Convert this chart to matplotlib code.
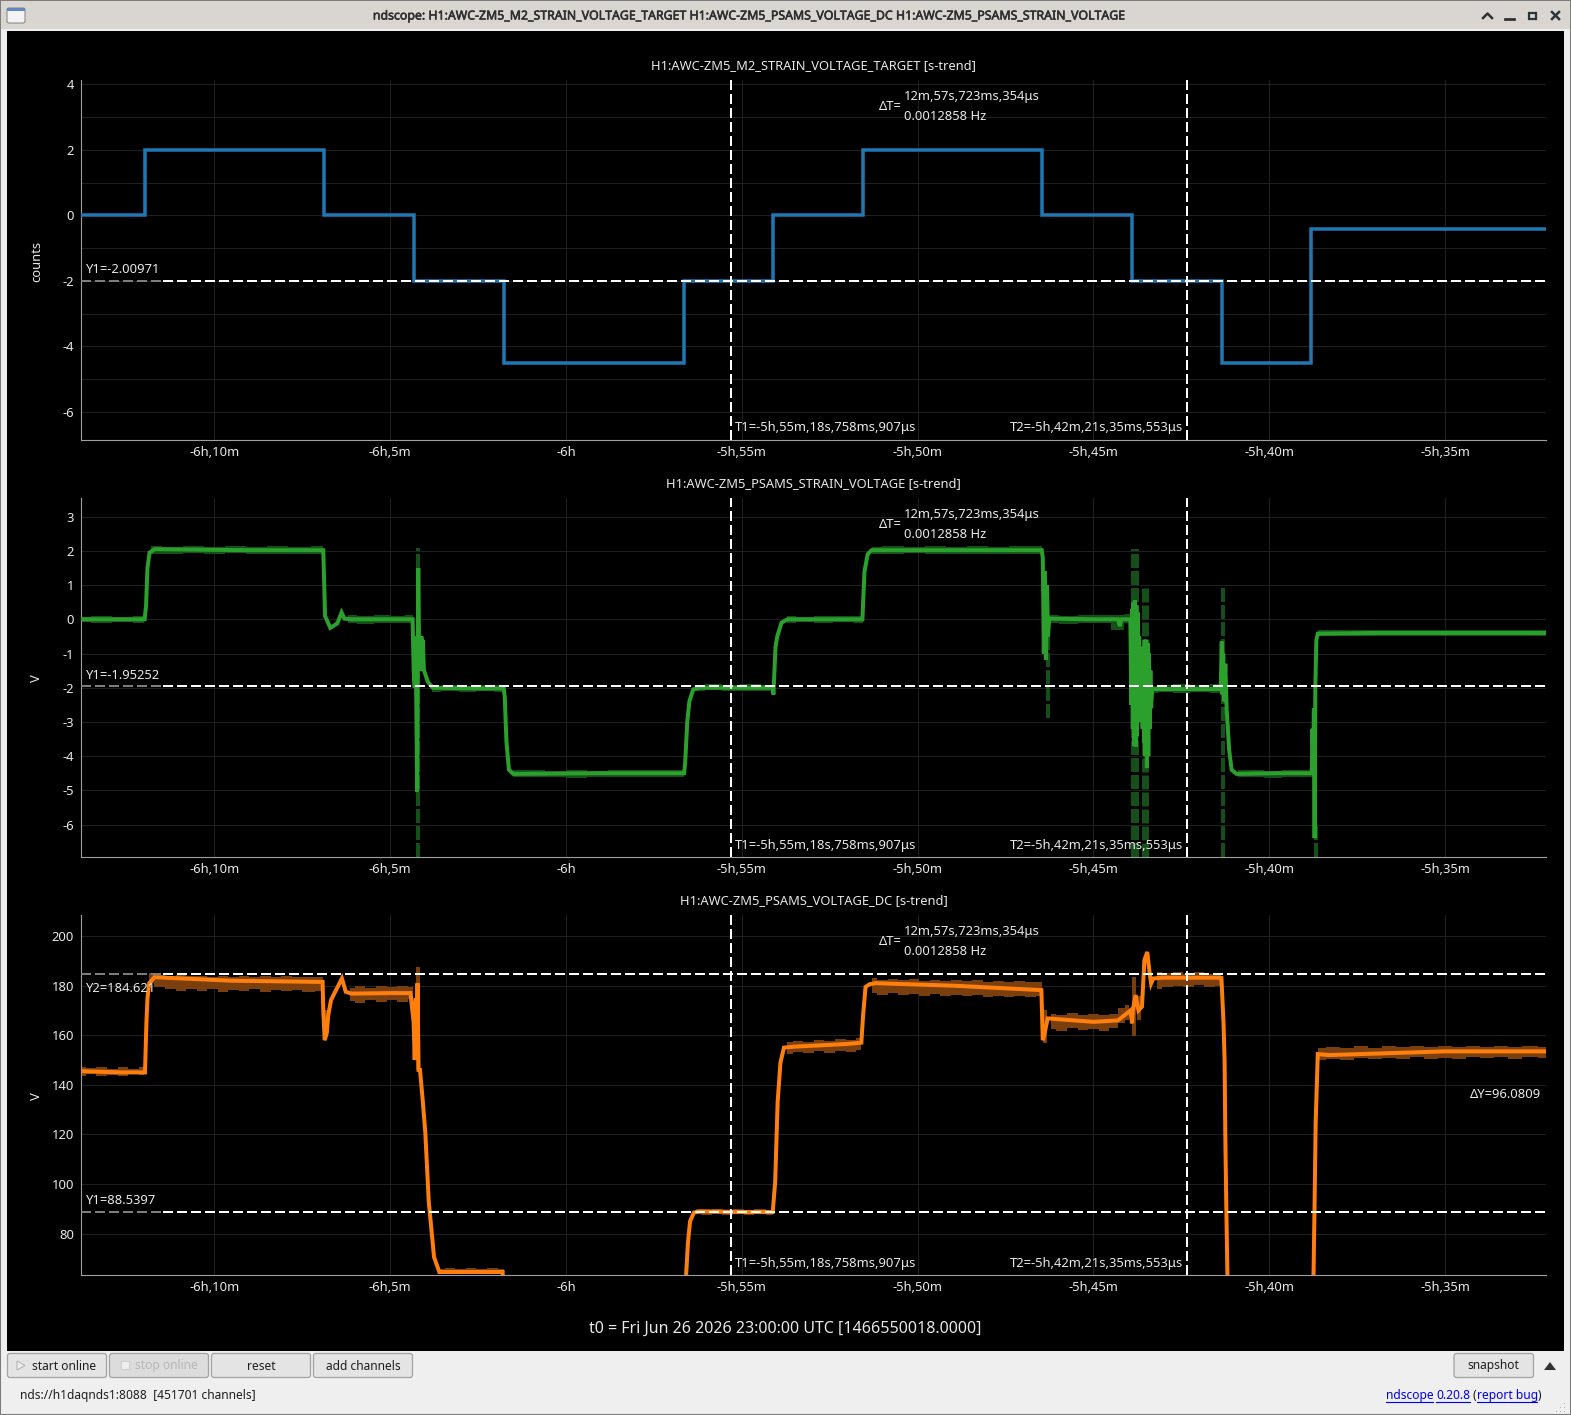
import matplotlib
matplotlib.use('Agg')
import matplotlib.pyplot as plt
import matplotlib.patheffects as pe
from matplotlib.patches import FancyBboxPatch, Rectangle, Polygon
import numpy as np

nan = np.nan
plt.rcParams['font.family'] = ['Noto Sans', 'DejaVu Sans']

W, H = 1571, 1415

# x axis is minutes relative to t0
x_ticks = [-370, -365, -360, -355, -350, -345, -340, -335]
x_labels = ['-6h,10m', '-6h,5m', '-6h', '-5h,55m', '-5h,50m', '-5h,45m', '-5h,40m', '-5h,35m']
x_lim = (-373.79, -332.13)

t1_cursor = -355.31
t2_cursor = -342.35
y_label_end = -371.47

# top panel: target steps
blue_t = [-373.79, -371.97, -366.87, -364.32, -361.77, -356.64, -354.10, -351.55, -346.45, -343.90, -341.35, -338.80, -332.13]
blue_v = [0, 2, 0, -2, -4.5, -2, 0, 2, 0, -2, -4.5, -0.4, -0.4]

# middle panel: strain voltage mean
green_t = [-373.79, -372.6, -371.98, -371.94, -371.9, -371.84, -371.7, -369.0, -366.9, -366.85, -366.7, -366.5, -366.38, -366.3, -366.1,
           -365.0, -364.36, -364.33, -364.30, -364.28, -364.26, -364.23, -364.20, -364.17, -364.15, -364.13, -364.11, -364.09, -364.07,
           -364.04, -363.93, -363.79, -362.5, -361.77, -361.74, -361.69, -361.62, -361.5, -359.0, -356.64, -356.61, -356.55, -356.49, -356.38, -356.21,
           -355.0, -354.12, -354.10, -354.04, -353.99, -353.87, -353.70, -352.5, -351.57, -351.51, -351.42, -351.31, -349.0, -346.47,
           -346.44, -346.41, -346.38, -346.35, -346.32, -346.29, -346.26, -345.0, -344.3, -344.25, -344.2, -343.95,
           -343.92, -343.90, -343.88, -343.86, -343.84, -343.82, -343.80, -343.78, -343.76, -343.74, -343.72, -343.70, -343.68, -343.65,
           -343.62, -343.60, -343.58, -343.56, -343.54, -343.52, -343.50, -343.48, -343.46, -343.44, -343.42, -343.40, -343.38, -343.36, -343.33,
           -342.5, -341.38, -341.35, -341.33, -341.31, -341.28, -341.25, -341.21, -341.14, -341.07, -340.93, -339.8, -338.79,
           -338.77, -338.75, -338.73, -338.71, -338.69, -338.66, -338.62, -337.0, -335.0, -332.13]
green_v = [0, 0, 0, 0.4, 1.5, 1.95, 2.05, 2.02, 2.02, 0.1, -0.25, -0.12, 0.2, 0.02, 0,
           0, 0, -1.5, -2, -0.5, -2, -5.04, 1.5, -1.5, -0.5, -1.5, -0.5, -1.5, -0.6,
           -1.48, -1.82, -2.0, -2.02, -2.02, -2.26, -3.6, -4.4, -4.52, -4.5, -4.5, -4.2, -3.0, -2.4, -2.05, -2.0,
           -2.0, -2.0, -2.2, -0.8, -0.5, -0.1, 0, 0, 0, 1.4, 1.9, 2.02, 2.02, 2.02,
           1.8, -1.0, 1.4, -1.19, 1.0, -0.5, 0.02, 0, 0, -0.2, 0, 0,
           -2.5, 0.3, -3.2, 0.5, -3.7, 0.56, -3.72, 0.4, -3.4, 0.2, -3.0, -0.5, -2.6, -1.5,
           -1.0, -3.2, -0.8, -3.6, -0.6, -4.0, -0.6, -4.35, -0.7, -4.0, -1.0, -3.2, -1.5, -2.6, -2.04,
           -2.04, -2.04, -0.65, -2.2, -1.0, -2.4, -1.3, -2.65, -3.82, -4.4, -4.52, -4.5, -4.5,
           -3.2, -4.2, -2.6, -6.4, -2.0, -0.6, -0.42, -0.4, -0.4, -0.4]

green_env_t = [-373.79, -373.2, -372.6, -372.0, nan,
               -371.8, -371.2, -370.6, -370.0, -369.4, -368.8, -368.2, -367.6, -366.9, nan,
               -366.2, -365.7, -365.2, -364.8, -364.35, nan,
               -363.8, -363.3, -362.8, -362.3, -361.8, nan,
               -361.5, -360.9, -360.3, -359.7, -359.1, -358.5, -357.9, -357.3, -356.65, nan,
               -356.3, -355.8, -355.3, -354.8, -354.1, nan,
               -353.7, -353.2, -352.7, -352.1, -351.55, nan,
               -351.3, -350.7, -350.1, -349.5, -348.9, -348.3, -347.7, -347.1, -346.47, nan,
               -346.25, -345.7, -345.2, -344.7, -344.3, -343.95, nan,
               -343.3, -343.0, -342.5, -342.0, -341.36, nan,
               -340.9, -340.4, -339.9, -339.4, -338.78, nan,
               -338.6, -338.0, -337.4, -336.8, -336.2, -335.6, -335.0, -334.4, -333.8, -333.2, -332.6, -332.13]
green_env_hi = [0.08, 0.1, 0.07, 0.09, nan,
                2.14, 2.12, 2.15, 2.12, 2.14, 2.11, 2.15, 2.12, 2.14, nan,
                0.12, 0.1, 0.13, 0.1, 0.14, nan,
                -1.94, -1.92, -1.95, -1.92, -1.93, nan,
                -4.42, -4.4, -4.44, -4.41, -4.43, -4.4, -4.42, -4.4, -4.42, nan,
                -1.92, -1.9, -1.93, -1.9, -1.92, nan,
                0.1, 0.08, 0.1, 0.09, 0.1, nan,
                2.12, 2.15, 2.12, 2.14, 2.11, 2.15, 2.12, 2.14, 2.13, nan,
                0.14, 0.1, 0.13, 0.12, 0.14, 0.16, nan,
                -1.94, -1.92, -1.9, -1.92, -1.9, nan,
                -4.42, -4.4, -4.43, -4.4, -4.42, nan,
                -0.3, -0.31, -0.3, -0.32, -0.3, -0.31, -0.3, -0.3, -0.32, -0.3, -0.31, -0.3]
green_env_lo = [-0.08, -0.1, -0.07, -0.1, nan,
                1.92, 1.9, 1.93, 1.91, 1.93, 1.9, 1.92, 1.91, 1.92, nan,
                -0.11, -0.13, -0.1, -0.12, -0.11, nan,
                -2.12, -2.1, -2.13, -2.1, -2.12, nan,
                -4.6, -4.62, -4.6, -4.63, -4.6, -4.62, -4.6, -4.62, -4.6, nan,
                -2.1, -2.08, -2.1, -2.09, -2.1, nan,
                -0.1, -0.09, -0.11, -0.09, -0.1, nan,
                1.92, 1.9, 1.93, 1.9, 1.92, 1.9, 1.92, 1.9, 1.92, nan,
                -0.11, -0.13, -0.1, -0.12, -0.3, -0.12, nan,
                -2.15, -2.14, -2.16, -2.13, -2.15, nan,
                -4.62, -4.6, -4.63, -4.6, -4.62, nan,
                -0.5, -0.48, -0.5, -0.48, -0.5, -0.48, -0.5, -0.5, -0.48, -0.5, -0.48, -0.5]

# dark min/max excursions in the middle panel
green_spike_t = [-364.21, -346.30, -343.83, -343.53, -341.32, -338.68]
green_spike_lo = [-6.95, -2.89, -6.95, -6.95, -6.95, -6.95]
green_spike_hi = [2.09, 0.0, 2.05, 1.0, 0.94, -6.0]
green_spike_w = [4, 4, 8, 7, 4, 4]

# bottom panel: PSAMS DC voltage mean (goes off scale below 64)
orange_t = [-373.79, -372.6, -371.97, -371.93, -371.90, -371.85, -371.7, -369.5, -366.92, -366.90, -366.86, -366.80, -366.76, -366.68, -366.37, -366.26, -366.1, -365.0,
            -364.42, -364.33, -364.30, -364.27, -364.25, -364.22, -364.19, -364.15, -364.08, -364.0, -363.9, -363.75, -363.6, -362.5, -361.8, -361.72,
            -356.68, -356.58, -356.53, -356.47, -356.36, -356.15, -355.0, -354.12, -354.05, -353.98, -353.9, -353.8, -353.5, -352.0, -351.6, -351.55, -351.48, -351.36, -351.2, -349.0, -346.48,
            -346.44, -346.40, -346.30, -345.0, -344.3, -344.0, -343.95, -343.9, -343.88, -343.8, -343.72, -343.62, -343.55, -343.47, -343.40, -343.36, -343.30, -343.05, -341.4,
            -341.36, -341.30, -341.27, -341.25, -341.22, -341.19, -341.12, -338.78, -338.74, -338.71, -338.68, -338.62, -338.3, -335.0, -332.13]
orange_v = [145.5, 145, 145, 165, 175, 181, 183.4, 182, 181.5, 170, 158, 161, 168, 174.2, 182.9, 177.5, 176.8, 177,
            177, 165, 150, 175, 150, 181, 146, 146, 135, 121, 92.7, 70.5, 64.5, 64.5, 64.5, 30,
            30, 64, 76.4, 85, 88.5, 89, 88.7, 88.7, 100.7, 133, 149, 155, 155.4, 156.5, 157, 168, 179.5, 180.6, 181, 180, 178.2,
            158, 160, 166.8, 165.4, 166, 169.4, 170, 164.8, 170, 176.2, 170, 171.5, 190.3, 193.6, 184.9, 180.9, 182.9, 183.2, 183.2,
            183.1, 164.8, 150, 120, 90, 64, 30, 30, 64, 92.7, 125, 152.4, 152, 153.5, 153.5]

orange_env_t = [-373.79, -373.5, -373.2, -372.9, -372.6, -372.3, -372.0, nan,
                -371.85, -371.55, -371.25, -370.95, -370.65, -370.35, -370.05, -369.75, -369.45, -369.15, -368.85, -368.55, -368.25, -367.95, -367.65, -367.35, -366.9, nan,
                -366.15, -365.85, -365.55, -365.25, -364.95, -364.65, -364.35, nan,
                -363.6, -363.3, -363.0, -362.7, -362.4, -362.1, -361.77, nan,
                -356.3, -356.0, -355.7, -355.4, -355.1, -354.8, -354.5, -354.1, nan,
                -353.7, -353.4, -353.1, -352.8, -352.5, -352.2, -351.9, -351.6, nan,
                -351.3, -351.0, -350.7, -350.4, -350.1, -349.8, -349.5, -349.2, -348.9, -348.6, -348.3, -348.0, -347.7, -347.4, -347.1, -346.8, -346.47, nan,
                -346.2, -345.9, -345.6, -345.3, -345.0, -344.7, -344.4, -344.2, -344.0, nan,
                -343.2, -342.9, -342.6, -342.3, -342.0, -341.7, -341.36, nan,
                -338.6, -338.2, -337.8, -337.4, -337.0, -336.6, -336.2, -335.8, -335.4, -335.0, -334.6, -334.2, -333.8, -333.4, -333.0, -332.6, -332.13]
orange_env_hi = [147, 146.6, 147.2, 146.5, 147, 146.4, 147, nan,
                 185, 184.3, 183.8, 184.2, 183.7, 184, 183.6, 184, 183.5, 183.8, 183.4, 183.9, 183.3, 183.7, 183.3, 183.6, 183.4, nan,
                 179.2, 179.8, 179.2, 179.7, 179.3, 179.8, 179.4, nan,
                 65.8, 66.3, 65.6, 66.2, 65.7, 66.3, 65.6, nan,
                 90, 89.6, 90.1, 89.7, 90, 89.6, 90, 89.7, nan,
                 157.3, 157.8, 157.4, 158, 157.8, 158.4, 158, 158.8, nan,
                 183, 182.4, 182.8, 182.2, 182.6, 182, 182.4, 181.8, 182.2, 181.7, 182.1, 181.6, 181.9, 181.5, 181.8, 181.4, 181.6, nan,
                 168.4, 168, 168.8, 168.1, 168.6, 168, 168.6, 171, 172, nan,
                 185.6, 185, 185.5, 184.9, 185.4, 184.9, 185.2, nan,
                 154.8, 155.3, 154.9, 155.5, 155, 155.7, 155.2, 155.8, 155.3, 155.7, 155.2, 155.8, 155.3, 155.7, 155.2, 155.8, 155.4]
orange_env_lo = [143.6, 144.2, 143.4, 144, 143.6, 144.2, 143.8, nan,
                 181, 179.5, 178.5, 178, 178.8, 177.8, 178.5, 177.6, 178.4, 177.8, 178.6, 177.5, 178.2, 177.7, 178.4, 177.6, 178, nan,
                 174, 173.2, 174.4, 173.4, 174.2, 173.4, 174.5, nan,
                 64, 63.6, 64, 63.6, 64, 63.6, 64, nan,
                 87.8, 87.5, 87.9, 87.5, 87.8, 87.6, 87.8, 87.5, nan,
                 152.6, 153.2, 152.8, 153.6, 153, 153.8, 153.4, 154.2, nan,
                 177, 176.4, 177, 176.2, 176.8, 176, 176.6, 175.8, 176.4, 175.8, 176.2, 175.6, 176, 175.4, 175.9, 175.4, 175.8, nan,
                 162.6, 161.8, 162.8, 162, 162.6, 161.8, 162.8, 165, 166, nan,
                 178.5, 179.6, 180, 179.5, 180.2, 179.6, 180, nan,
                 150, 150.6, 150.2, 150.8, 150.4, 151, 150.5, 151.1, 150.6, 151, 150.6, 151.1, 150.7, 151.1, 150.6, 151.1, 150.8]

orange_spike_t = [-364.2, -366.86, -346.38, -343.84, -343.7]
orange_spike_lo = [146, 159.5, 156.7, 159.5, 166]
orange_spike_hi = [187.6, 170, 170, 183.5, 176]

# cursor values
panel1_y1 = -2.00971
panel2_y1 = -1.95252
panel3_y1 = 88.5397
panel3_y2 = 184.621

BLUE = '#1f77b4'
GREEN = '#2ca02c'
ORANGE = '#ff7f0e'
DARK_GREEN = '#15501a'
DARK_ORANGE = '#7a3f0c'
GRID = '#1f1f1f'
AXIS = '#a0a0a0'
TXT = '#e8e8e8'
LEFT, RIGHT = 81, 1546


def px(n):
    return n * 0.72


fig = plt.figure(figsize=(W / 100, H / 100), dpi=100, facecolor='#efefef')

# window chrome behind the plots
bg = fig.add_axes([0, 0, 1, 1], zorder=0)
bg.set_xlim(0, W)
bg.set_ylim(H, 0)
bg.axis('off')
bg.add_patch(Rectangle((0, 0), W, H, fc='#efefef', ec='#7c7c7c', lw=1.5))
bg.add_patch(Rectangle((1, 1), W - 2, 28, fc='#d9d6d2', ec='none'))
bg.add_patch(Rectangle((7, 31), 1557, 1320, fc='black', ec='none'))
bg.add_patch(FancyBboxPatch((7, 8), 18, 15, boxstyle='round,pad=0,rounding_size=2', fc='#f4f4f4', ec='#8c8c8c', lw=0.8))
bg.add_patch(Rectangle((7, 8), 18, 2.5, fc='#5f86c0', ec='none'))
bg.text(750.5, 16, 'ndscope: H1:AWC-ZM5_M2_STRAIN_VOLTAGE_TARGET H1:AWC-ZM5_PSAMS_VOLTAGE_DC H1:AWC-ZM5_PSAMS_STRAIN_VOLTAGE',
        ha='center', va='center', fontsize=px(12.33), color='#2e2e2e',
        path_effects=[pe.withStroke(linewidth=0.4, foreground='#2e2e2e')])
# window buttons
bg.plot([1483, 1487.5, 1492], [18, 13.5, 18], color='#2e3436', lw=1.8)
bg.plot([1505, 1514], [19, 19], color='#2e3436', lw=2)
bg.add_patch(Rectangle((1529, 12.5), 7.5, 6.5, fc='none', ec='#2e3436', lw=1.6))
bg.plot([1552, 1559], [12, 19], color='#2e3436', lw=1.8)
bg.plot([1552, 1559], [19, 12], color='#2e3436', lw=1.8)


def button(x0, x1, label, text_color='#1e1e1e', fc='#e4e4e4', tx=None):
    bg.add_patch(FancyBboxPatch((x0, 1353.5), x1 - x0, 24, boxstyle='round,pad=0,rounding_size=2.5', fc=fc, ec='#a3a3a3', lw=0.9))
    bg.text((x0 + x1) / 2 if tx is None else tx, 1366, label, ha='center', va='center', fontsize=px(12), color=text_color)


button(7.5, 106.5, 'start online', tx=64)
button(109.5, 208.5, 'stop online', text_color='#b8b8b8', fc='#dcdcdc', tx=166.5)
button(211.5, 310.5, 'reset')
button(313.5, 412.5, 'add channels')
button(1454, 1533.5, 'snapshot')
bg.add_patch(Polygon([[17, 1361], [25, 1365.5], [17, 1370]], closed=True, fc='#efefef', ec='#b5b5b5', lw=0.8))
bg.add_patch(Rectangle((121, 1361), 8, 8, fc='#efefef', ec='#cfcfcf', lw=0.8))
bg.add_patch(Polygon([[1544, 1370], [1556, 1370], [1550, 1362]], closed=True, fc='#333333', ec='none'))
bg.text(20, 1395.5, 'nds://h1daqnds1:8088  [451701 channels]', ha='left', va='center', fontsize=px(12), color='#1e1e1e')

link_parts = [('ndscope', 1386, 1433), ('0.20.8', 1436, 1470), ('report bug', 1477, 1537)]
for label, x0, x1 in link_parts:
    bg.text(x0, 1395.5, label, ha='left', va='center', fontsize=px(12), color='#0000ee')
    bg.plot([x0, x1], [1401.5, 1401.5], color='#0000ee', lw=0.8)
bg.text(1473, 1395.5, '(', ha='left', va='center', fontsize=px(12), color='#1e1e1e')
bg.text(1537.5, 1395.5, ')', ha='left', va='center', fontsize=px(12), color='#1e1e1e')
for i in range(3):
    for j in range(3 - i):
        bg.add_patch(Rectangle((1564 - j * 4, 1411 - i * 4), 1.3, 1.3, fc='#b5b5b5', ec='none'))


def make_panel(top, bottom, ylim, yticks, ygrid, ylabels):
    ax = fig.add_axes([LEFT / W, 1 - bottom / H, (RIGHT - LEFT) / W, (bottom - top) / H], zorder=1)
    ax.set_facecolor('none')
    ax.set_xlim(x_lim)
    ax.set_ylim(ylim)
    ax.set_xticks(x_ticks)
    ax.set_xticklabels(x_labels)
    ax.set_yticks(yticks)
    ax.set_yticklabels(ylabels)
    ax.set_yticks(ygrid, minor=True)
    ax.tick_params(axis='both', which='both', length=0, colors=TXT, labelsize=px(13))
    ax.tick_params(axis='x', pad=4.5)
    ax.tick_params(axis='y', pad=5)
    ax.grid(True, which='major', color=GRID, lw=0.72)
    ax.grid(True, which='minor', axis='y', color=GRID, lw=0.72)
    ax.set_axisbelow(True)
    for side in ['top', 'right']:
        ax.spines[side].set_visible(False)
    for side in ['left', 'bottom']:
        ax.spines[side].set_color(AXIS)
        ax.spines[side].set_linewidth(0.8)
    return ax


def draw_cursors(ax, levels):
    for t in [t1_cursor, t2_cursor]:
        ax.axvline(t, color='white', lw=px(2), ls=(0, (5, 2)), zorder=6)
    for y in levels:
        ax.plot([x_lim[0], y_label_end], [y, y], color='#7d7d7d', lw=px(2), ls=(0, (5, 2)), zorder=6)
        ax.plot([y_label_end, x_lim[1]], [y, y], color='white', lw=px(2), ls=(0, (5, 2)), zorder=6)


ax1 = make_panel(80, 440, (-6.855, 4.137), [4, 2, 0, -2, -4, -6], [3, 1, -1, -3, -5], ['4', '2', '0', '-2', '-4', '-6'])
ax1.step(blue_t, blue_v, where='post', color=BLUE, lw=px(3.5), solid_joinstyle='miter', zorder=3)
draw_cursors(ax1, [panel1_y1])

ax2 = make_panel(498, 857, (-6.95, 3.547), [3, 2, 1, 0, -1, -2, -3, -4, -5, -6], [], ['3', '2', '1', '0', '-1', '-2', '-3', '-4', '-5', '-6'])
ax2.fill_between(green_env_t, green_env_lo, green_env_hi, step='mid', color=DARK_GREEN, lw=0, zorder=2)
for t, lo, hi, w in zip(green_spike_t, green_spike_lo, green_spike_hi, green_spike_w):
    ax2.plot([t, t], [lo, hi], color=DARK_GREEN, lw=px(w), ls=(0, (14 / w, 3 / w)), dash_capstyle='butt', zorder=2)
ax2.plot(green_t, green_v, color=GREEN, lw=px(4), solid_joinstyle='miter', zorder=3)
draw_cursors(ax2, [panel2_y1])

ax3 = make_panel(915, 1275, (63.3, 208.5), [200, 180, 160, 140, 120, 100, 80], [], ['200', '180', '160', '140', '120', '100', '80'])
ax3.fill_between(orange_env_t, orange_env_lo, orange_env_hi, step='mid', color=DARK_ORANGE, lw=0, zorder=2)
ax3.vlines(orange_spike_t, orange_spike_lo, orange_spike_hi, color=DARK_ORANGE, lw=px(4), zorder=2)
ax3.plot(orange_t, orange_v, color=ORANGE, lw=px(4), solid_joinstyle='miter', zorder=3)
draw_cursors(ax3, [panel3_y1, panel3_y2])

# labels and cursor readouts on top of the plots
fg = fig.add_axes([0, 0, 1, 1], zorder=2)
fg.set_xlim(0, W)
fg.set_ylim(H, 0)
fg.axis('off')
fg.patch.set_alpha(0)


def label(x, y, s, ha='left', size=13, **kw):
    fg.text(x, y, s, ha=ha, va='center', fontsize=px(size), color=TXT, **kw)


titles = ['H1:AWC-ZM5_M2_STRAIN_VOLTAGE_TARGET [s-trend]',
          'H1:AWC-ZM5_PSAMS_STRAIN_VOLTAGE [s-trend]',
          'H1:AWC-ZM5_PSAMS_VOLTAGE_DC [s-trend]']
for s, y in zip(titles, [66, 484, 901]):
    label(813.5, y, s, ha='center', size=12.9)
for s, y in zip(['counts', 'V', 'V'], [261, 678, 1096]):
    label(36.5, y, s, ha='center', rotation=90)
for y in [96.5, 514.5, 931.5]:
    label(878.5, y + 10, '\u0394T=')
    label(904, y, '12m,57s,723ms,354\u03bcs')
    label(904, y + 20, '0.0012858 Hz')
for y in [428, 846, 1264]:
    label(735, y, 'T1=-5h,55m,18s,758ms,907\u03bcs')
    label(1183.5, y, 'T2=-5h,42m,21s,35ms,553\u03bcs', ha='right')
label(85.5, 269.5, 'Y1=-2.00971')
label(85.5, 675.5, 'Y1=-1.95252')
label(85.5, 1200.5, 'Y1=88.5397')
label(85.5, 988, 'Y2=184.621')
label(1541, 1094.5, '\u0394Y=96.0809', ha='right')
label(785.5, 1328.5, 't0 = Fri Jun 26 2026 23:00:00 UTC [1466550018.0000]', ha='center', size=16)

fig.savefig('out.png', dpi=100, facecolor=fig.get_facecolor())
